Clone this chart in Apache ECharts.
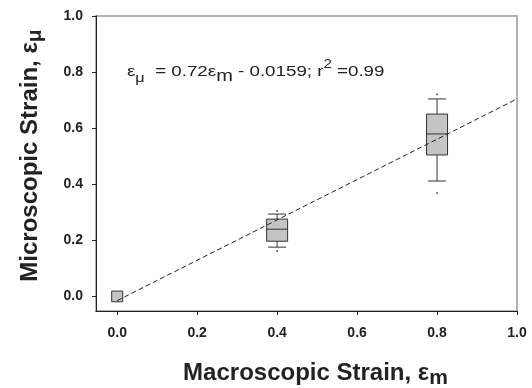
<!DOCTYPE html>
<html>
<head>
<meta charset="utf-8">
<script src="https://cdn.jsdelivr.net/npm/echarts@6/dist/echarts.min.js"></script>
<style>html,body{margin:0;background:#fff}</style>
</head>
<body>
<div id="strainChart" style="width:532px;height:388px"></div>
<script>
// box statistics per strain level
const strainLevels = [0, 0.4, 0.8];
const whiskerLow = [-0.02, 0.175, 0.411];
const quartile1 = [-0.02, 0.196, 0.504];
const medians = [-0.002, 0.239, 0.579];
const quartile3 = [0.018, 0.275, 0.65];
const whiskerHigh = [0.018, 0.293, 0.704];
const outliers = [[0.4, 0.304], [0.4, 0.161], [0.8, 0.721], [0.8, 0.368]];
const tickValues = [0, 0.2, 0.4, 0.6, 0.8, 1.0];
// regression: e_mu = 0.72 e_m - 0.0159
const fitSlope = 0.72;
const fitIntercept = -0.0159;
const fitRange = [0, 1];

const boxData = strainLevels.map((x, i) =>
  [x, whiskerLow[i], quartile1[i], medians[i], quartile3[i], whiskerHigh[i]]);
const fitData = fitRange.map(x => [x, fitSlope * x + fitIntercept]);

const FONT = 'Liberation Sans, Arial, sans-serif';
const INK = '#222';

function renderBox(params, api) {
  const x = api.value(0);
  const small = params.dataIndex === 0;
  const w = small ? 11 : 21;
  const capW = small ? 0 : 18;
  const lo = api.coord([x, api.value(1)]);
  const q1 = api.coord([x, api.value(2)]);
  const md = api.coord([x, api.value(3)]);
  const q3 = api.coord([x, api.value(4)]);
  const hi = api.coord([x, api.value(5)]);
  const cx = lo[0];
  const line = {stroke: '#333', lineWidth: 1};
  const children = [];
  if (!small) {
    children.push(
      {type: 'line', shape: {x1: cx, y1: hi[1], x2: cx, y2: q3[1]}, style: line},
      {type: 'line', shape: {x1: cx, y1: q1[1], x2: cx, y2: lo[1]}, style: line},
      {type: 'line', shape: {x1: cx - capW / 2, y1: hi[1], x2: cx + capW / 2, y2: hi[1]}, style: line},
      {type: 'line', shape: {x1: cx - capW / 2, y1: lo[1], x2: cx + capW / 2, y2: lo[1]}, style: line}
    );
  }
  children.push({
    type: 'rect',
    shape: {x: cx - w / 2, y: q3[1], width: w, height: q1[1] - q3[1]},
    style: {fill: '#c4c4c4', stroke: '#333', lineWidth: 1}
  });
  if (!small) {
    children.push({type: 'line', shape: {x1: cx - w / 2, y1: md[1], x2: cx + w / 2, y2: md[1]}, style: line});
  }
  return {type: 'group', children: children};
}

const axisCommon = {
  type: 'value',
  min: -0.053,
  max: 1,
  axisLine: {show: true, onZero: false, lineStyle: {color: INK, width: 1}},
  axisTick: {show: true, inside: false, length: 4, customValues: tickValues, lineStyle: {color: INK}},
  axisLabel: {
    customValues: tickValues,
    formatter: v => v.toFixed(1),
    color: INK, fontSize: 14, fontWeight: 'bold', fontFamily: FONT
  },
  splitLine: {show: false}
};

const titleRich = {
  n: {fontSize: 24, fontWeight: 'bold', fontFamily: FONT, color: INK, lineHeight: 32},
  sub: {fontSize: 21, fontWeight: 'bold', fontFamily: FONT, color: INK, lineHeight: 20, verticalAlign: 'bottom'}
};

const option = {
  animation: false,
  grid: {left: 96, right: 15, top: 16, bottom: 77, show: true, borderColor: '#999', borderWidth: 1.5, containLabel: false, outerBoundsMode: 'none'},
  xAxis: Object.assign({}, axisCommon, {
    axisLabel: Object.assign({}, axisCommon.axisLabel, {margin: 15}),
    name: '{n|Macroscopic Strain, ε}{sub|m}',
    nameLocation: 'middle',
    nameGap: 46,
    nameTextStyle: {padding: [0, 0, 0, 18], rich: titleRich}
  }),
  yAxis: Object.assign({}, axisCommon, {
    axisLabel: Object.assign({}, axisCommon.axisLabel, {margin: 13}),
    name: '{n|Microscopic Strain, ε}{sub|μ}',
    nameLocation: 'middle',
    nameGap: 50,
    nameTextStyle: {padding: [0, 0, 0, 16], rich: titleRich}
  }),
  graphic: [{
    type: 'text',
    left: 127,
    top: 59,
    scaleX: 1.25,
    style: {
      text: '{e|ε}{sub|μ}{n|  = 0.72ε}{subm|m}{n| - 0.0159; r}{sup|2}{n| =0.99}',
      rich: {
        e: {fontSize: 15, fontFamily: FONT, fill: INK, lineHeight: 26},
        n: {fontSize: 15, fontFamily: FONT, fill: INK, lineHeight: 26},
        sub: {fontSize: 13, fontFamily: FONT, fill: INK, lineHeight: 15, verticalAlign: 'bottom'},
        subm: {fontSize: 16, fontFamily: FONT, fill: INK, lineHeight: 17, verticalAlign: 'bottom'},
        sup: {fontSize: 12, fontFamily: FONT, fill: INK, lineHeight: 15, verticalAlign: 'top'}
      }
    }
  }],
  series: [
    {
      type: 'custom',
      renderItem: renderBox,
      data: boxData,
      encode: {x: 0, y: [1, 2, 3, 4, 5]},
      z: 2
    },
    {
      type: 'line',
      data: fitData,
      symbol: 'none',
      lineStyle: {color: INK, width: 1, type: [5, 3]},
      z: 3
    },
    {
      type: 'scatter',
      data: outliers,
      symbolSize: 2,
      itemStyle: {color: '#333'},
      z: 3
    }
  ]
};

const strainChart = echarts.init(document.getElementById('strainChart'));
strainChart.setOption(option);
</script>
</body>
</html>
